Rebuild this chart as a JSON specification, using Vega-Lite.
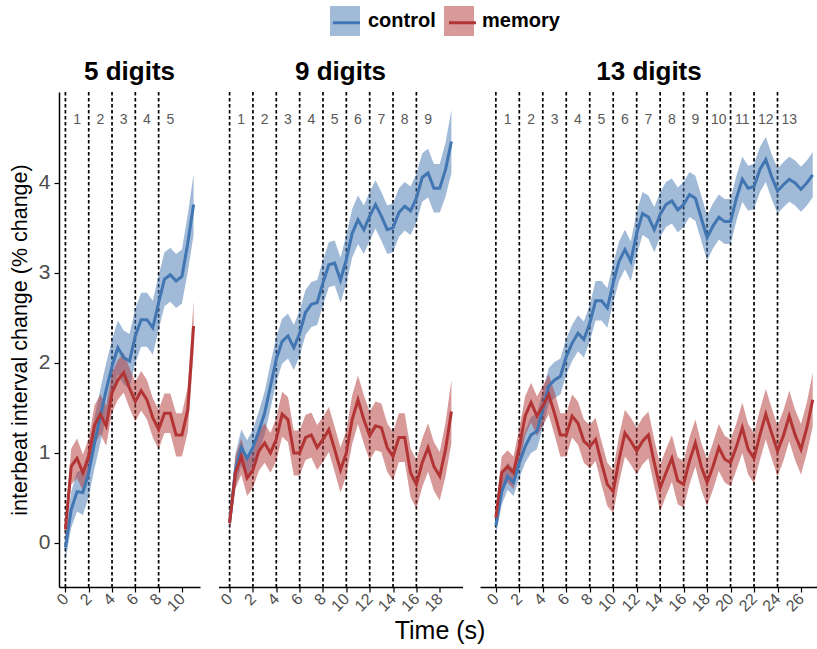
{
 "$schema": "https://vega.github.io/schema/vega-lite/v6.json",
 "padding": {"left": 9, "top": 6, "right": 0, "bottom": 4},
 "spacing": 17.5,
 "config": {"font": "Liberation Sans", "view": {"stroke": null}, "axis": {"grid": false}, "axisX": {"labelOverlap": false}},
 "title": {"text": "Time (s)", "orient": "bottom", "anchor": "middle", "fontSize": 25, "fontWeight": "normal", "color": "black", "offset": 5, "dx": 26},
 "datasets": {
  "v": [
   {"p":5,"t":0},{"p":5,"t":2},{"p":5,"t":4},{"p":5,"t":6},{"p":5,"t":8},
   {"p":9,"t":0},{"p":9,"t":2},{"p":9,"t":4},{"p":9,"t":6},{"p":9,"t":8},{"p":9,"t":10},{"p":9,"t":12},{"p":9,"t":14},{"p":9,"t":16},
   {"p":13,"t":0},{"p":13,"t":2},{"p":13,"t":4},{"p":13,"t":6},{"p":13,"t":8},{"p":13,"t":10},{"p":13,"t":12},{"p":13,"t":14},{"p":13,"t":16},{"p":13,"t":18},{"p":13,"t":20},{"p":13,"t":22},{"p":13,"t":24}
  ],
  "n": [
   {"p":5,"t":1,"lab":"1"},{"p":5,"t":3,"lab":"2"},{"p":5,"t":5,"lab":"3"},{"p":5,"t":7,"lab":"4"},{"p":5,"t":9,"lab":"5"},
   {"p":9,"t":1,"lab":"1"},{"p":9,"t":3,"lab":"2"},{"p":9,"t":5,"lab":"3"},{"p":9,"t":7,"lab":"4"},{"p":9,"t":9,"lab":"5"},{"p":9,"t":11,"lab":"6"},{"p":9,"t":13,"lab":"7"},{"p":9,"t":15,"lab":"8"},{"p":9,"t":17,"lab":"9"},
   {"p":13,"t":1,"lab":"1"},{"p":13,"t":3,"lab":"2"},{"p":13,"t":5,"lab":"3"},{"p":13,"t":7,"lab":"4"},{"p":13,"t":9,"lab":"5"},{"p":13,"t":11,"lab":"6"},{"p":13,"t":13,"lab":"7"},{"p":13,"t":15,"lab":"8"},{"p":13,"t":17,"lab":"9"},{"p":13,"t":19,"lab":"10"},{"p":13,"t":21,"lab":"11"},{"p":13,"t":23,"lab":"12"},{"p":13,"t":25,"lab":"13"}
  ],
  "s": [
   {"p":5,"c":"control","t":0,"m":-0.05,"lo":-0.2,"hi":0.1},
   {"p":5,"c":"control","t":0.5,"m":0.37,"lo":0.17,"hi":0.57},
   {"p":5,"c":"control","t":1,"m":0.57,"lo":0.35,"hi":0.79},
   {"p":5,"c":"control","t":1.5,"m":0.56,"lo":0.31,"hi":0.81},
   {"p":5,"c":"control","t":2,"m":0.78,"lo":0.51,"hi":1.05},
   {"p":5,"c":"control","t":2.5,"m":1.11,"lo":0.83,"hi":1.39},
   {"p":5,"c":"control","t":3,"m":1.41,"lo":1.11,"hi":1.71},
   {"p":5,"c":"control","t":3.5,"m":1.7,"lo":1.4,"hi":2.0},
   {"p":5,"c":"control","t":4,"m":1.96,"lo":1.66,"hi":2.26},
   {"p":5,"c":"control","t":4.5,"m":2.17,"lo":1.87,"hi":2.47},
   {"p":5,"c":"control","t":5,"m":2.06,"lo":1.76,"hi":2.36},
   {"p":5,"c":"control","t":5.5,"m":2.02,"lo":1.72,"hi":2.32},
   {"p":5,"c":"control","t":6,"m":2.3,"lo":2.0,"hi":2.6},
   {"p":5,"c":"control","t":6.5,"m":2.48,"lo":2.18,"hi":2.78},
   {"p":5,"c":"control","t":7,"m":2.48,"lo":2.18,"hi":2.78},
   {"p":5,"c":"control","t":7.5,"m":2.39,"lo":2.09,"hi":2.69},
   {"p":5,"c":"control","t":8,"m":2.67,"lo":2.37,"hi":2.97},
   {"p":5,"c":"control","t":8.5,"m":2.93,"lo":2.63,"hi":3.23},
   {"p":5,"c":"control","t":9,"m":2.98,"lo":2.68,"hi":3.28},
   {"p":5,"c":"control","t":9.5,"m":2.91,"lo":2.61,"hi":3.21},
   {"p":5,"c":"control","t":10,"m":2.96,"lo":2.66,"hi":3.26},
   {"p":5,"c":"control","t":10.5,"m":3.33,"lo":3.01,"hi":3.65},
   {"p":5,"c":"control","t":11,"m":3.76,"lo":3.42,"hi":4.1},
   {"p":5,"c":"memory","t":0,"m":0.15,"lo":0.03,"hi":0.27},
   {"p":5,"c":"memory","t":0.5,"m":0.85,"lo":0.65,"hi":1.05},
   {"p":5,"c":"memory","t":1,"m":0.94,"lo":0.72,"hi":1.16},
   {"p":5,"c":"memory","t":1.5,"m":0.78,"lo":0.58,"hi":0.98},
   {"p":5,"c":"memory","t":2,"m":0.96,"lo":0.76,"hi":1.16},
   {"p":5,"c":"memory","t":2.5,"m":1.31,"lo":1.09,"hi":1.53},
   {"p":5,"c":"memory","t":3,"m":1.43,"lo":1.21,"hi":1.65},
   {"p":5,"c":"memory","t":3.5,"m":1.3,"lo":1.08,"hi":1.52},
   {"p":5,"c":"memory","t":4,"m":1.67,"lo":1.45,"hi":1.89},
   {"p":5,"c":"memory","t":4.5,"m":1.81,"lo":1.59,"hi":2.03},
   {"p":5,"c":"memory","t":5,"m":1.89,"lo":1.67,"hi":2.11},
   {"p":5,"c":"memory","t":5.5,"m":1.72,"lo":1.5,"hi":1.94},
   {"p":5,"c":"memory","t":6,"m":1.57,"lo":1.35,"hi":1.79},
   {"p":5,"c":"memory","t":6.5,"m":1.69,"lo":1.47,"hi":1.91},
   {"p":5,"c":"memory","t":7,"m":1.59,"lo":1.37,"hi":1.81},
   {"p":5,"c":"memory","t":7.5,"m":1.39,"lo":1.17,"hi":1.61},
   {"p":5,"c":"memory","t":8,"m":1.26,"lo":1.04,"hi":1.48},
   {"p":5,"c":"memory","t":8.5,"m":1.44,"lo":1.22,"hi":1.66},
   {"p":5,"c":"memory","t":9,"m":1.44,"lo":1.22,"hi":1.66},
   {"p":5,"c":"memory","t":9.5,"m":1.2,"lo":0.96,"hi":1.44},
   {"p":5,"c":"memory","t":10,"m":1.2,"lo":0.96,"hi":1.44},
   {"p":5,"c":"memory","t":10.5,"m":1.48,"lo":1.23,"hi":1.73},
   {"p":5,"c":"memory","t":11,"m":2.41,"lo":2.13,"hi":2.69},
   {"p":9,"c":"control","t":0,"m":0.22,"lo":0.12,"hi":0.32},
   {"p":9,"c":"control","t":0.5,"m":0.81,"lo":0.63,"hi":0.99},
   {"p":9,"c":"control","t":1,"m":1.06,"lo":0.86,"hi":1.26},
   {"p":9,"c":"control","t":1.5,"m":0.94,"lo":0.74,"hi":1.14},
   {"p":9,"c":"control","t":2,"m":1.06,"lo":0.86,"hi":1.26},
   {"p":9,"c":"control","t":2.5,"m":1.24,"lo":1.02,"hi":1.46},
   {"p":9,"c":"control","t":3,"m":1.44,"lo":1.2,"hi":1.68},
   {"p":9,"c":"control","t":3.5,"m":1.74,"lo":1.49,"hi":1.99},
   {"p":9,"c":"control","t":4,"m":2.04,"lo":1.79,"hi":2.29},
   {"p":9,"c":"control","t":4.5,"m":2.24,"lo":1.99,"hi":2.49},
   {"p":9,"c":"control","t":5,"m":2.3,"lo":2.05,"hi":2.55},
   {"p":9,"c":"control","t":5.5,"m":2.17,"lo":1.92,"hi":2.42},
   {"p":9,"c":"control","t":6,"m":2.33,"lo":2.08,"hi":2.58},
   {"p":9,"c":"control","t":6.5,"m":2.56,"lo":2.31,"hi":2.81},
   {"p":9,"c":"control","t":7,"m":2.65,"lo":2.4,"hi":2.9},
   {"p":9,"c":"control","t":7.5,"m":2.67,"lo":2.42,"hi":2.92},
   {"p":9,"c":"control","t":8,"m":2.89,"lo":2.64,"hi":3.14},
   {"p":9,"c":"control","t":8.5,"m":3.09,"lo":2.84,"hi":3.34},
   {"p":9,"c":"control","t":9,"m":3.11,"lo":2.86,"hi":3.36},
   {"p":9,"c":"control","t":9.5,"m":2.92,"lo":2.67,"hi":3.17},
   {"p":9,"c":"control","t":10,"m":3.15,"lo":2.88,"hi":3.42},
   {"p":9,"c":"control","t":10.5,"m":3.44,"lo":3.17,"hi":3.71},
   {"p":9,"c":"control","t":11,"m":3.59,"lo":3.32,"hi":3.86},
   {"p":9,"c":"control","t":11.5,"m":3.48,"lo":3.21,"hi":3.75},
   {"p":9,"c":"control","t":12,"m":3.63,"lo":3.36,"hi":3.9},
   {"p":9,"c":"control","t":12.5,"m":3.76,"lo":3.49,"hi":4.03},
   {"p":9,"c":"control","t":13,"m":3.63,"lo":3.36,"hi":3.9},
   {"p":9,"c":"control","t":13.5,"m":3.48,"lo":3.21,"hi":3.75},
   {"p":9,"c":"control","t":14,"m":3.5,"lo":3.23,"hi":3.77},
   {"p":9,"c":"control","t":14.5,"m":3.67,"lo":3.4,"hi":3.94},
   {"p":9,"c":"control","t":15,"m":3.74,"lo":3.47,"hi":4.01},
   {"p":9,"c":"control","t":15.5,"m":3.69,"lo":3.42,"hi":3.96},
   {"p":9,"c":"control","t":16,"m":3.83,"lo":3.56,"hi":4.1},
   {"p":9,"c":"control","t":16.5,"m":4.06,"lo":3.79,"hi":4.33},
   {"p":9,"c":"control","t":17,"m":4.11,"lo":3.84,"hi":4.38},
   {"p":9,"c":"control","t":17.5,"m":3.94,"lo":3.67,"hi":4.21},
   {"p":9,"c":"control","t":18,"m":3.94,"lo":3.67,"hi":4.21},
   {"p":9,"c":"control","t":18.5,"m":4.15,"lo":3.85,"hi":4.45},
   {"p":9,"c":"control","t":19,"m":4.46,"lo":4.11,"hi":4.81},
   {"p":9,"c":"memory","t":0,"m":0.22,"lo":0.12,"hi":0.32},
   {"p":9,"c":"memory","t":0.5,"m":0.78,"lo":0.6,"hi":0.96},
   {"p":9,"c":"memory","t":1,"m":0.96,"lo":0.76,"hi":1.16},
   {"p":9,"c":"memory","t":1.5,"m":0.72,"lo":0.52,"hi":0.92},
   {"p":9,"c":"memory","t":2,"m":0.81,"lo":0.61,"hi":1.01},
   {"p":9,"c":"memory","t":2.5,"m":1.02,"lo":0.8,"hi":1.24},
   {"p":9,"c":"memory","t":3,"m":1.11,"lo":0.89,"hi":1.33},
   {"p":9,"c":"memory","t":3.5,"m":1.0,"lo":0.78,"hi":1.22},
   {"p":9,"c":"memory","t":4,"m":1.15,"lo":0.91,"hi":1.39},
   {"p":9,"c":"memory","t":4.5,"m":1.43,"lo":1.18,"hi":1.68},
   {"p":9,"c":"memory","t":5,"m":1.37,"lo":1.12,"hi":1.62},
   {"p":9,"c":"memory","t":5.5,"m":1.0,"lo":0.75,"hi":1.25},
   {"p":9,"c":"memory","t":6,"m":1.0,"lo":0.75,"hi":1.25},
   {"p":9,"c":"memory","t":6.5,"m":1.17,"lo":0.92,"hi":1.42},
   {"p":9,"c":"memory","t":7,"m":1.2,"lo":0.95,"hi":1.45},
   {"p":9,"c":"memory","t":7.5,"m":1.06,"lo":0.81,"hi":1.31},
   {"p":9,"c":"memory","t":8,"m":1.15,"lo":0.9,"hi":1.4},
   {"p":9,"c":"memory","t":8.5,"m":1.26,"lo":1.01,"hi":1.51},
   {"p":9,"c":"memory","t":9,"m":1.04,"lo":0.79,"hi":1.29},
   {"p":9,"c":"memory","t":9.5,"m":0.81,"lo":0.56,"hi":1.06},
   {"p":9,"c":"memory","t":10,"m":1.0,"lo":0.75,"hi":1.25},
   {"p":9,"c":"memory","t":10.5,"m":1.37,"lo":1.1,"hi":1.64},
   {"p":9,"c":"memory","t":11,"m":1.59,"lo":1.32,"hi":1.86},
   {"p":9,"c":"memory","t":11.5,"m":1.37,"lo":1.1,"hi":1.64},
   {"p":9,"c":"memory","t":12,"m":1.19,"lo":0.92,"hi":1.46},
   {"p":9,"c":"memory","t":12.5,"m":1.3,"lo":1.03,"hi":1.57},
   {"p":9,"c":"memory","t":13,"m":1.28,"lo":1.01,"hi":1.55},
   {"p":9,"c":"memory","t":13.5,"m":1.06,"lo":0.79,"hi":1.33},
   {"p":9,"c":"memory","t":14,"m":0.96,"lo":0.69,"hi":1.23},
   {"p":9,"c":"memory","t":14.5,"m":1.17,"lo":0.9,"hi":1.44},
   {"p":9,"c":"memory","t":15,"m":1.17,"lo":0.9,"hi":1.44},
   {"p":9,"c":"memory","t":15.5,"m":0.78,"lo":0.51,"hi":1.05},
   {"p":9,"c":"memory","t":16,"m":0.65,"lo":0.38,"hi":0.92},
   {"p":9,"c":"memory","t":16.5,"m":0.89,"lo":0.62,"hi":1.16},
   {"p":9,"c":"memory","t":17,"m":1.06,"lo":0.79,"hi":1.33},
   {"p":9,"c":"memory","t":17.5,"m":0.85,"lo":0.58,"hi":1.12},
   {"p":9,"c":"memory","t":18,"m":0.74,"lo":0.47,"hi":1.01},
   {"p":9,"c":"memory","t":18.5,"m":1.04,"lo":0.74,"hi":1.34},
   {"p":9,"c":"memory","t":19,"m":1.46,"lo":1.11,"hi":1.81},
   {"p":13,"c":"control","t":0,"m":0.19,"lo":0.09,"hi":0.29},
   {"p":13,"c":"control","t":0.5,"m":0.57,"lo":0.42,"hi":0.72},
   {"p":13,"c":"control","t":1,"m":0.74,"lo":0.59,"hi":0.89},
   {"p":13,"c":"control","t":1.5,"m":0.67,"lo":0.52,"hi":0.82},
   {"p":13,"c":"control","t":2,"m":0.89,"lo":0.72,"hi":1.06},
   {"p":13,"c":"control","t":2.5,"m":1.07,"lo":0.89,"hi":1.25},
   {"p":13,"c":"control","t":3,"m":1.2,"lo":1.0,"hi":1.4},
   {"p":13,"c":"control","t":3.5,"m":1.24,"lo":1.04,"hi":1.44},
   {"p":13,"c":"control","t":4,"m":1.48,"lo":1.28,"hi":1.68},
   {"p":13,"c":"control","t":4.5,"m":1.74,"lo":1.54,"hi":1.94},
   {"p":13,"c":"control","t":5,"m":1.81,"lo":1.61,"hi":2.01},
   {"p":13,"c":"control","t":5.5,"m":1.85,"lo":1.65,"hi":2.05},
   {"p":13,"c":"control","t":6,"m":2.07,"lo":1.87,"hi":2.27},
   {"p":13,"c":"control","t":6.5,"m":2.22,"lo":2.02,"hi":2.42},
   {"p":13,"c":"control","t":7,"m":2.33,"lo":2.13,"hi":2.53},
   {"p":13,"c":"control","t":7.5,"m":2.26,"lo":2.06,"hi":2.46},
   {"p":13,"c":"control","t":8,"m":2.44,"lo":2.24,"hi":2.64},
   {"p":13,"c":"control","t":8.5,"m":2.69,"lo":2.47,"hi":2.91},
   {"p":13,"c":"control","t":9,"m":2.69,"lo":2.47,"hi":2.91},
   {"p":13,"c":"control","t":9.5,"m":2.61,"lo":2.39,"hi":2.83},
   {"p":13,"c":"control","t":10,"m":2.89,"lo":2.67,"hi":3.11},
   {"p":13,"c":"control","t":10.5,"m":3.13,"lo":2.91,"hi":3.35},
   {"p":13,"c":"control","t":11,"m":3.26,"lo":3.04,"hi":3.48},
   {"p":13,"c":"control","t":11.5,"m":3.13,"lo":2.91,"hi":3.35},
   {"p":13,"c":"control","t":12,"m":3.44,"lo":3.2,"hi":3.68},
   {"p":13,"c":"control","t":12.5,"m":3.66,"lo":3.42,"hi":3.9},
   {"p":13,"c":"control","t":13,"m":3.62,"lo":3.38,"hi":3.86},
   {"p":13,"c":"control","t":13.5,"m":3.48,"lo":3.23,"hi":3.73},
   {"p":13,"c":"control","t":14,"m":3.65,"lo":3.4,"hi":3.9},
   {"p":13,"c":"control","t":14.5,"m":3.76,"lo":3.51,"hi":4.01},
   {"p":13,"c":"control","t":15,"m":3.8,"lo":3.55,"hi":4.05},
   {"p":13,"c":"control","t":15.5,"m":3.7,"lo":3.45,"hi":3.95},
   {"p":13,"c":"control","t":16,"m":3.76,"lo":3.51,"hi":4.01},
   {"p":13,"c":"control","t":16.5,"m":3.87,"lo":3.62,"hi":4.12},
   {"p":13,"c":"control","t":17,"m":3.83,"lo":3.58,"hi":4.08},
   {"p":13,"c":"control","t":17.5,"m":3.61,"lo":3.36,"hi":3.86},
   {"p":13,"c":"control","t":18,"m":3.39,"lo":3.14,"hi":3.64},
   {"p":13,"c":"control","t":18.5,"m":3.52,"lo":3.27,"hi":3.77},
   {"p":13,"c":"control","t":19,"m":3.62,"lo":3.37,"hi":3.87},
   {"p":13,"c":"control","t":19.5,"m":3.57,"lo":3.32,"hi":3.82},
   {"p":13,"c":"control","t":20,"m":3.57,"lo":3.32,"hi":3.82},
   {"p":13,"c":"control","t":20.5,"m":3.83,"lo":3.58,"hi":4.08},
   {"p":13,"c":"control","t":21,"m":4.04,"lo":3.79,"hi":4.29},
   {"p":13,"c":"control","t":21.5,"m":3.94,"lo":3.69,"hi":4.19},
   {"p":13,"c":"control","t":22,"m":3.96,"lo":3.71,"hi":4.21},
   {"p":13,"c":"control","t":22.5,"m":4.15,"lo":3.9,"hi":4.4},
   {"p":13,"c":"control","t":23,"m":4.26,"lo":4.01,"hi":4.51},
   {"p":13,"c":"control","t":23.5,"m":4.07,"lo":3.82,"hi":4.32},
   {"p":13,"c":"control","t":24,"m":3.91,"lo":3.66,"hi":4.16},
   {"p":13,"c":"control","t":24.5,"m":3.98,"lo":3.73,"hi":4.23},
   {"p":13,"c":"control","t":25,"m":4.04,"lo":3.79,"hi":4.29},
   {"p":13,"c":"control","t":25.5,"m":4.0,"lo":3.75,"hi":4.25},
   {"p":13,"c":"control","t":26,"m":3.93,"lo":3.68,"hi":4.18},
   {"p":13,"c":"control","t":26.5,"m":4.0,"lo":3.75,"hi":4.25},
   {"p":13,"c":"control","t":27,"m":4.09,"lo":3.84,"hi":4.34},
   {"p":13,"c":"memory","t":0,"m":0.28,"lo":0.18,"hi":0.38},
   {"p":13,"c":"memory","t":0.5,"m":0.78,"lo":0.6,"hi":0.96},
   {"p":13,"c":"memory","t":1,"m":0.85,"lo":0.67,"hi":1.03},
   {"p":13,"c":"memory","t":1.5,"m":0.78,"lo":0.6,"hi":0.96},
   {"p":13,"c":"memory","t":2,"m":1.07,"lo":0.87,"hi":1.27},
   {"p":13,"c":"memory","t":2.5,"m":1.41,"lo":1.19,"hi":1.63},
   {"p":13,"c":"memory","t":3,"m":1.56,"lo":1.34,"hi":1.78},
   {"p":13,"c":"memory","t":3.5,"m":1.41,"lo":1.19,"hi":1.63},
   {"p":13,"c":"memory","t":4,"m":1.52,"lo":1.3,"hi":1.74},
   {"p":13,"c":"memory","t":4.5,"m":1.65,"lo":1.43,"hi":1.87},
   {"p":13,"c":"memory","t":5,"m":1.44,"lo":1.2,"hi":1.68},
   {"p":13,"c":"memory","t":5.5,"m":1.2,"lo":0.96,"hi":1.44},
   {"p":13,"c":"memory","t":6,"m":1.2,"lo":0.96,"hi":1.44},
   {"p":13,"c":"memory","t":6.5,"m":1.41,"lo":1.17,"hi":1.65},
   {"p":13,"c":"memory","t":7,"m":1.33,"lo":1.09,"hi":1.57},
   {"p":13,"c":"memory","t":7.5,"m":1.13,"lo":0.89,"hi":1.37},
   {"p":13,"c":"memory","t":8,"m":1.07,"lo":0.83,"hi":1.31},
   {"p":13,"c":"memory","t":8.5,"m":1.15,"lo":0.91,"hi":1.39},
   {"p":13,"c":"memory","t":9,"m":0.89,"lo":0.65,"hi":1.13},
   {"p":13,"c":"memory","t":9.5,"m":0.65,"lo":0.41,"hi":0.89},
   {"p":13,"c":"memory","t":10,"m":0.57,"lo":0.33,"hi":0.81},
   {"p":13,"c":"memory","t":10.5,"m":0.93,"lo":0.67,"hi":1.19},
   {"p":13,"c":"memory","t":11,"m":1.22,"lo":0.96,"hi":1.48},
   {"p":13,"c":"memory","t":11.5,"m":1.13,"lo":0.87,"hi":1.39},
   {"p":13,"c":"memory","t":12,"m":1.02,"lo":0.76,"hi":1.28},
   {"p":13,"c":"memory","t":12.5,"m":1.13,"lo":0.87,"hi":1.39},
   {"p":13,"c":"memory","t":13,"m":1.2,"lo":0.94,"hi":1.46},
   {"p":13,"c":"memory","t":13.5,"m":0.89,"lo":0.63,"hi":1.15},
   {"p":13,"c":"memory","t":14,"m":0.61,"lo":0.35,"hi":0.87},
   {"p":13,"c":"memory","t":14.5,"m":0.78,"lo":0.52,"hi":1.04},
   {"p":13,"c":"memory","t":15,"m":0.94,"lo":0.68,"hi":1.2},
   {"p":13,"c":"memory","t":15.5,"m":0.69,"lo":0.43,"hi":0.95},
   {"p":13,"c":"memory","t":16,"m":0.65,"lo":0.39,"hi":0.91},
   {"p":13,"c":"memory","t":16.5,"m":0.91,"lo":0.65,"hi":1.17},
   {"p":13,"c":"memory","t":17,"m":1.11,"lo":0.85,"hi":1.37},
   {"p":13,"c":"memory","t":17.5,"m":0.85,"lo":0.59,"hi":1.11},
   {"p":13,"c":"memory","t":18,"m":0.67,"lo":0.41,"hi":0.93},
   {"p":13,"c":"memory","t":18.5,"m":0.85,"lo":0.59,"hi":1.11},
   {"p":13,"c":"memory","t":19,"m":1.06,"lo":0.8,"hi":1.32},
   {"p":13,"c":"memory","t":19.5,"m":0.93,"lo":0.67,"hi":1.19},
   {"p":13,"c":"memory","t":20,"m":0.89,"lo":0.63,"hi":1.15},
   {"p":13,"c":"memory","t":20.5,"m":1.07,"lo":0.81,"hi":1.33},
   {"p":13,"c":"memory","t":21,"m":1.28,"lo":1.0,"hi":1.56},
   {"p":13,"c":"memory","t":21.5,"m":1.04,"lo":0.76,"hi":1.32},
   {"p":13,"c":"memory","t":22,"m":0.94,"lo":0.66,"hi":1.22},
   {"p":13,"c":"memory","t":22.5,"m":1.2,"lo":0.92,"hi":1.48},
   {"p":13,"c":"memory","t":23,"m":1.43,"lo":1.15,"hi":1.71},
   {"p":13,"c":"memory","t":23.5,"m":1.22,"lo":0.94,"hi":1.5},
   {"p":13,"c":"memory","t":24,"m":1.02,"lo":0.74,"hi":1.3},
   {"p":13,"c":"memory","t":24.5,"m":1.19,"lo":0.91,"hi":1.47},
   {"p":13,"c":"memory","t":25,"m":1.41,"lo":1.13,"hi":1.69},
   {"p":13,"c":"memory","t":25.5,"m":1.2,"lo":0.92,"hi":1.48},
   {"p":13,"c":"memory","t":26,"m":1.04,"lo":0.76,"hi":1.32},
   {"p":13,"c":"memory","t":26.5,"m":1.28,"lo":1.0,"hi":1.56},
   {"p":13,"c":"memory","t":27,"m":1.59,"lo":1.29,"hi":1.89}
  ]
 },
 "hconcat": [
  {
   "width": 141, "height": 495,
   "title": {"text": "5 digits", "fontSize": 26, "fontWeight": "bold", "anchor": "middle", "offset": 6, "color": "black"},
   "encoding": {"x": {"field": "t", "type": "quantitative", "scale": {"domain": [-0.55, 11.55], "nice": false, "zero": false},
     "axis": {"values": [0, 2, 4, 6, 8, 10], "title": null, "labelAngle": -45, "labelAlign": "right", "labelBaseline": "middle", "labelFontSize": 16, "labelColor": "#4d4d4d", "labelOverlap": false, "labelBound": false, "domainColor": "black", "domainWidth": 1.5, "tickColor": "black", "tickSize": 5, "tickWidth": 1.2, "labelPadding": 4}}},
   "layer": [
    {"data": {"name": "v"}, "transform": [{"filter": "datum.p == 5"}],
     "mark": {"type": "rule", "strokeDash": [3.5, 2.5], "strokeWidth": 1.7, "color": "black"}},
    {"data": {"name": "s"}, "transform": [{"filter": "datum.p == 5"}],
     "mark": {"type": "area", "opacity": 0.5},
     "encoding": {
      "y": {"field": "lo", "type": "quantitative", "scale": {"domain": [-0.49, 5.01], "nice": false, "zero": false},
       "axis": {"values": [0, 1, 2, 3, 4], "format": "d", "title": "interbeat interval change (% change)", "titleFontSize": 21.5, "titleFontWeight": "normal", "titleColor": "black", "labelFontSize": 21, "labelColor": "#4d4d4d", "domainColor": "black", "domainWidth": 1.5, "tickColor": "black", "tickSize": 5, "tickWidth": 1.2, "labelPadding": 4, "titlePadding": 7}},
      "y2": {"field": "hi"},
      "fill": {"field": "c", "type": "nominal", "scale": {"domain": ["control", "memory"], "range": ["#4176b2", "#b23434"]},
       "legend": {"orient": "none", "legendX": 271, "legendY": -86, "direction": "horizontal", "title": null, "symbolType": "square", "symbolSize": 900, "symbolOpacity": 0.5, "symbolStrokeWidth": 0, "labelFontSize": 20, "labelFontWeight": "bold", "labelColor": "black", "labelOffset": 8, "columnPadding": 8}}}},
    {"data": {"name": "s"}, "transform": [{"filter": "datum.p == 5"}],
     "mark": {"type": "line", "strokeWidth": 3},
     "encoding": {
      "y": {"field": "m", "type": "quantitative"},
      "stroke": {"field": "c", "type": "nominal", "scale": {"range": ["#4176b2", "#b23434"]},
       "legend": {"orient": "none", "legendX": 271, "legendY": -86, "direction": "horizontal", "title": null, "symbolType": "M-0.9,0H0.9", "symbolSize": 900, "symbolStrokeWidth": 3, "labelExpr": "''", "labelFontSize": 20, "labelOffset": 8, "columnPadding": 72}}}},
    {"data": {"name": "n"}, "transform": [{"filter": "datum.p == 5"}],
     "mark": {"type": "text", "fontSize": 14, "color": "#595959"},
     "encoding": {"y": {"datum": 4.7, "type": "quantitative"}, "text": {"field": "lab"}}}
   ]
  },
  {
   "width": 244, "height": 495,
   "title": {"text": "9 digits", "fontSize": 26, "fontWeight": "bold", "anchor": "middle", "offset": 6, "color": "black"},
   "encoding": {"x": {"field": "t", "type": "quantitative", "scale": {"domain": [-0.95, 19.95], "nice": false, "zero": false},
     "axis": {"values": [0, 2, 4, 6, 8, 10, 12, 14, 16, 18], "title": null, "labelAngle": -45, "labelAlign": "right", "labelBaseline": "middle", "labelFontSize": 16, "labelColor": "#4d4d4d", "labelOverlap": false, "labelBound": false, "domainColor": "black", "domainWidth": 1.5, "tickColor": "black", "tickSize": 5, "tickWidth": 1.2, "labelPadding": 4}}},
   "layer": [
    {"data": {"name": "v"}, "transform": [{"filter": "datum.p == 9"}],
     "mark": {"type": "rule", "strokeDash": [3.5, 2.5], "strokeWidth": 1.7, "color": "black"}},
    {"data": {"name": "s"}, "transform": [{"filter": "datum.p == 9"}],
     "mark": {"type": "area", "opacity": 0.5},
     "encoding": {
      "y": {"field": "lo", "type": "quantitative", "scale": {"domain": [-0.49, 5.01], "nice": false, "zero": false}, "axis": null},
      "y2": {"field": "hi"},
      "fill": {"field": "c", "type": "nominal", "scale": {"domain": ["control", "memory"], "range": ["#4176b2", "#b23434"]},
       "legend": {"orient": "none", "legendX": 271, "legendY": -86, "direction": "horizontal", "title": null, "symbolType": "square", "symbolSize": 900, "symbolOpacity": 0.5, "symbolStrokeWidth": 0, "labelFontSize": 20, "labelFontWeight": "bold", "labelColor": "black", "labelOffset": 8, "columnPadding": 8}}}},
    {"data": {"name": "s"}, "transform": [{"filter": "datum.p == 9"}],
     "mark": {"type": "line", "strokeWidth": 3},
     "encoding": {
      "y": {"field": "m", "type": "quantitative", "axis": null},
      "stroke": {"field": "c", "type": "nominal", "scale": {"range": ["#4176b2", "#b23434"]},
       "legend": {"orient": "none", "legendX": 271, "legendY": -86, "direction": "horizontal", "title": null, "symbolType": "M-0.9,0H0.9", "symbolSize": 900, "symbolStrokeWidth": 3, "labelExpr": "''", "labelFontSize": 20, "labelOffset": 8, "columnPadding": 72}}}},
    {"data": {"name": "n"}, "transform": [{"filter": "datum.p == 9"}],
     "mark": {"type": "text", "fontSize": 14, "color": "#595959"},
     "encoding": {"y": {"datum": 4.7, "type": "quantitative", "axis": null}, "text": {"field": "lab"}}}
   ]
  },
  {
   "width": 338, "height": 495,
   "title": {"text": "13 digits", "fontSize": 26, "fontWeight": "bold", "anchor": "middle", "offset": 6, "color": "black"},
   "encoding": {"x": {"field": "t", "type": "quantitative", "scale": {"domain": [-1.35, 27.45], "nice": false, "zero": false},
     "axis": {"values": [0, 2, 4, 6, 8, 10, 12, 14, 16, 18, 20, 22, 24, 26], "title": null, "labelAngle": -45, "labelAlign": "right", "labelBaseline": "middle", "labelFontSize": 16, "labelColor": "#4d4d4d", "labelOverlap": false, "labelBound": false, "domainColor": "black", "domainWidth": 1.5, "tickColor": "black", "tickSize": 5, "tickWidth": 1.2, "labelPadding": 4}}},
   "layer": [
    {"data": {"name": "v"}, "transform": [{"filter": "datum.p == 13"}],
     "mark": {"type": "rule", "strokeDash": [3.5, 2.5], "strokeWidth": 1.7, "color": "black"}},
    {"data": {"name": "s"}, "transform": [{"filter": "datum.p == 13"}],
     "mark": {"type": "area", "opacity": 0.5},
     "encoding": {
      "y": {"field": "lo", "type": "quantitative", "scale": {"domain": [-0.49, 5.01], "nice": false, "zero": false}, "axis": null},
      "y2": {"field": "hi"},
      "fill": {"field": "c", "type": "nominal", "scale": {"domain": ["control", "memory"], "range": ["#4176b2", "#b23434"]},
       "legend": {"orient": "none", "legendX": 271, "legendY": -86, "direction": "horizontal", "title": null, "symbolType": "square", "symbolSize": 900, "symbolOpacity": 0.5, "symbolStrokeWidth": 0, "labelFontSize": 20, "labelFontWeight": "bold", "labelColor": "black", "labelOffset": 8, "columnPadding": 8}}}},
    {"data": {"name": "s"}, "transform": [{"filter": "datum.p == 13"}],
     "mark": {"type": "line", "strokeWidth": 3},
     "encoding": {
      "y": {"field": "m", "type": "quantitative", "axis": null},
      "stroke": {"field": "c", "type": "nominal", "scale": {"range": ["#4176b2", "#b23434"]},
       "legend": {"orient": "none", "legendX": 271, "legendY": -86, "direction": "horizontal", "title": null, "symbolType": "M-0.9,0H0.9", "symbolSize": 900, "symbolStrokeWidth": 3, "labelExpr": "''", "labelFontSize": 20, "labelOffset": 8, "columnPadding": 72}}}},
    {"data": {"name": "n"}, "transform": [{"filter": "datum.p == 13"}],
     "mark": {"type": "text", "fontSize": 14, "color": "#595959"},
     "encoding": {"y": {"datum": 4.7, "type": "quantitative", "axis": null}, "text": {"field": "lab"}}}
   ]
  }
 ]
}
